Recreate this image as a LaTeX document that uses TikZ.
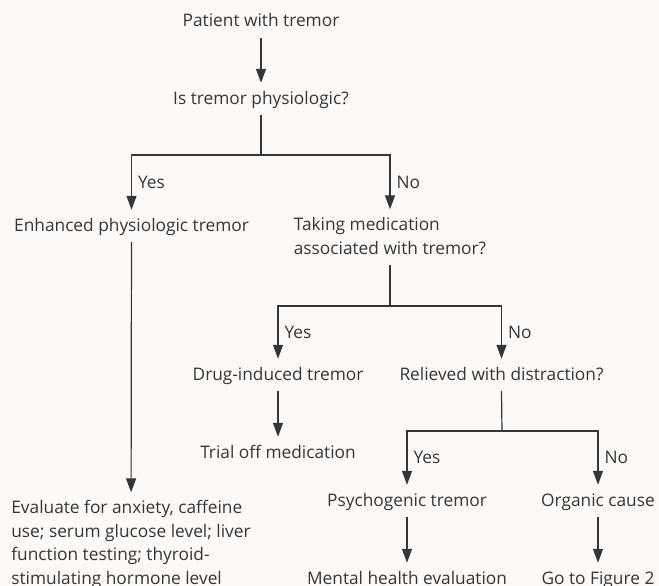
\documentclass[tikz,border=0pt]{standalone}
\usepackage{fontspec}
\setmainfont{Open Sans}
\usepackage{tikz}
\usetikzlibrary{arrows.meta}
\definecolor{paper}{HTML}{FDF9F6}
\definecolor{ink}{HTML}{363636}
\tikzset{
    flowchart/.style={
        x=1pt, y=-1pt,
        every node/.style={text=ink, anchor=base, inner xsep=0pt, inner ysep=6pt,
            font=\fontsize{17.3}{23.5}\selectfont, text height=15pt},
        stepbox/.style={text depth=5pt},
        tallbox/.style={align=left},
        answer/.style={right, inner xsep=6pt, text height=12pt, text depth=0pt},
        link/.style={draw=ink, line width=1.2pt},
        arrow/.style={link, -{Triangle[length=14pt, width=10pt]}},
    },
}

\begin{document}
\begin{tikzpicture}[flowchart]
    \useasboundingbox[fill=paper] (0,0) rectangle (659,586);

    \node[stepbox] (patient) at (261,27) {Patient with tremor};
    \node[stepbox] (physio) at (261,104) {Is tremor physiologic?};
    \node[stepbox] (enhanced) at (131.5,231) {Enhanced physiologic tremor};
    % base of a two-line node is its last line
    \node[tallbox, text height=38.5pt, text depth=5pt] (medic) at (390,254)
        {Taking medication\\associated with tremor?};
    \node[stepbox] (druginduced) at (278,380) {Drug-induced tremor};
    \node[stepbox] (relieved) at (501.5,380) {Relieved with distraction?};
    \node[stepbox] (trialoff) at (278,458) {Trial off medication};
    \node[stepbox] (psycho) at (407,506) {Psychogenic tremor};
    \node[stepbox] (organic) at (598,506) {Organic cause};
    \node[stepbox] (mental) at (407,584) {Mental health evaluation};
    \node[stepbox] (figtwo) at (598,584) {Go to Figure 2};
    \node[tallbox, text height=85.5pt] (evaluate) at (131,584)
        {Evaluate for anxiety, caffeine\\use; serum glucose level; liver\\function testing; thyroid-\\stimulating hormone level};

    % branch points
    \coordinate (split1) at (261,155);
    \coordinate (split2) at (390,306);
    \coordinate (split3) at (502,431);

    \draw[arrow] (patient) -- (physio);
    \draw[link] (physio) -- (split1);
    \draw[arrow] (split1) -| node[answer, pos=0.75] {Yes} (enhanced);
    \draw[arrow] (split1) -| node[answer, pos=0.75] {No} (medic);
    \draw[arrow] (enhanced) -- (evaluate);
    \draw[link] (medic) -- (split2);
    \draw[arrow] (split2) -| node[answer, pos=0.75] {Yes} (druginduced);
    \draw[arrow] (split2) -| node[answer, pos=0.75] {No} (relieved);
    \draw[arrow] (druginduced) -- (trialoff);
    \draw[link] (relieved.south) -- (split3);
    \draw[arrow] (split3) -| node[answer, pos=0.75] {Yes} (psycho);
    \draw[arrow] (split3) -| node[answer, pos=0.75] {No} (organic);
    \draw[arrow] (psycho) -- (mental);
    \draw[arrow] (organic) -- (figtwo);
\end{tikzpicture}
\end{document}
